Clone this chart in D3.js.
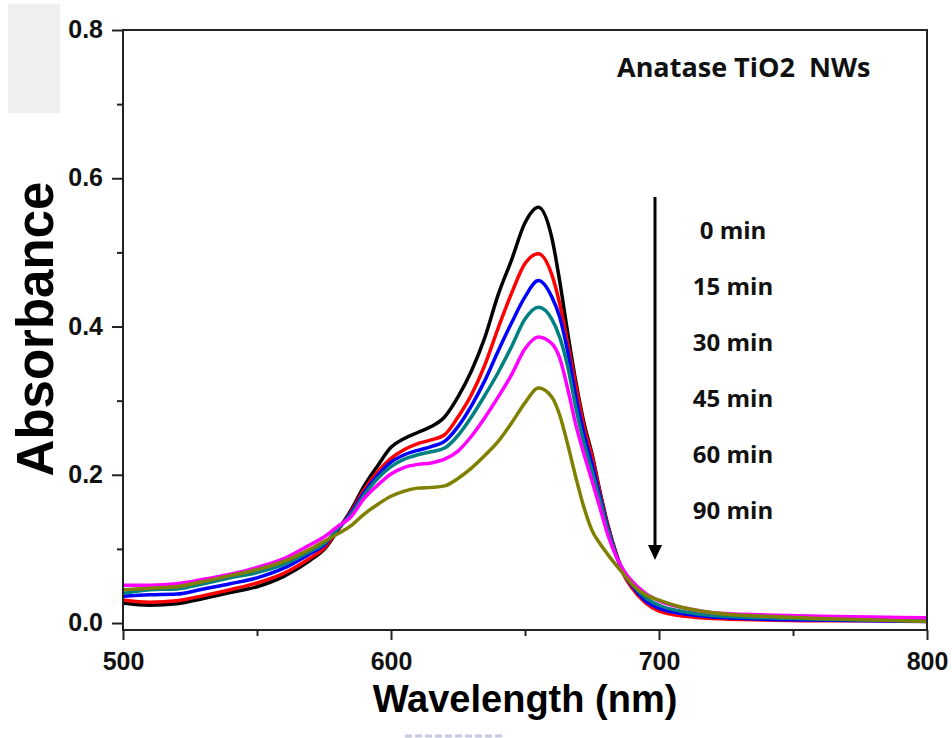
<!DOCTYPE html>
<html lang="en">
<head>
  <meta charset="UTF-8">
  <title>Anatase TiO2 NWs absorbance</title>
  <script src="https://d3js.org/d3.v7.min.js"></script>
  <style>
    body { margin: 0; background: #fff; }
    .tick text { font: bold 25px "Liberation Sans", Arial, sans-serif; fill: #111; }
    .tick line { stroke: #222; stroke-width: 2px; }
    .curve { fill: none; stroke-width: 3.5px; stroke-linejoin: round; }
    .note { font-family: "Open Sans", sans-serif; font-weight: 700; fill: #111; }
  </style>
</head>
<body>
  <svg id="chart" width="952" height="738"></svg>

  <script>
    // wavelength grid (nm) the curves were read at
    const wavelength = [500, 510, 520, 530, 540, 550, 560, 570, 575, 580, 585, 590, 595, 600, 605, 610, 615, 620,
      625, 630, 635, 640, 645, 650, 655, 660, 663, 666, 669, 672, 675, 678, 681, 684, 687, 690, 695, 700,
      710, 720, 740, 760, 780, 800];

    const abs0 = [0.027, 0.024, 0.026, 0.033, 0.041, 0.049, 0.063, 0.085, 0.099, 0.124, 0.152, 0.185, 0.212, 0.237, 0.249, 0.257, 0.265, 0.278,
      0.305, 0.340, 0.385, 0.443, 0.490, 0.540, 0.561, 0.520, 0.460, 0.390, 0.325, 0.270, 0.228, 0.177, 0.131, 0.094, 0.065, 0.048, 0.029, 0.018,
      0.010, 0.007, 0.005, 0.004, 0.004, 0.005];
    const abs15 = [0.031, 0.028, 0.030, 0.037, 0.045, 0.054, 0.067, 0.088, 0.101, 0.125, 0.150, 0.180, 0.204, 0.222, 0.234, 0.242, 0.247, 0.254,
      0.278, 0.308, 0.348, 0.398, 0.445, 0.485, 0.498, 0.470, 0.430, 0.376, 0.320, 0.265, 0.225, 0.175, 0.130, 0.093, 0.064, 0.047, 0.027, 0.016,
      0.009, 0.006, 0.004, 0.003, 0.003, 0.004];
    const abs30 = [0.036, 0.038, 0.039, 0.046, 0.053, 0.061, 0.074, 0.094, 0.105, 0.126, 0.148, 0.176, 0.199, 0.217, 0.227, 0.233, 0.238, 0.245,
      0.265, 0.293, 0.327, 0.367, 0.405, 0.440, 0.462, 0.440, 0.412, 0.365, 0.305, 0.255, 0.215, 0.170, 0.127, 0.092, 0.066, 0.050, 0.030, 0.020,
      0.012, 0.008, 0.005, 0.004, 0.003, 0.002];
    const abs45 = [0.040, 0.045, 0.046, 0.053, 0.061, 0.068, 0.079, 0.097, 0.107, 0.127, 0.146, 0.173, 0.195, 0.211, 0.221, 0.227, 0.231, 0.236,
      0.253, 0.278, 0.307, 0.338, 0.373, 0.410, 0.426, 0.410, 0.385, 0.345, 0.290, 0.243, 0.205, 0.165, 0.124, 0.091, 0.067, 0.052, 0.034, 0.024,
      0.015, 0.010, 0.007, 0.005, 0.004, 0.003];
    const abs60 = [0.051, 0.051, 0.053, 0.059, 0.066, 0.075, 0.087, 0.106, 0.116, 0.130, 0.143, 0.168, 0.186, 0.201, 0.210, 0.214, 0.216, 0.221,
      0.232, 0.252, 0.277, 0.305, 0.335, 0.370, 0.386, 0.377, 0.357, 0.315, 0.267, 0.228, 0.192, 0.155, 0.118, 0.090, 0.070, 0.056, 0.040, 0.030,
      0.020, 0.014, 0.011, 0.009, 0.008, 0.007];
    const abs90 = [0.045, 0.047, 0.049, 0.056, 0.064, 0.072, 0.083, 0.100, 0.110, 0.120, 0.131, 0.147, 0.160, 0.171, 0.178, 0.182, 0.183, 0.185,
      0.195, 0.209, 0.226, 0.245, 0.270, 0.297, 0.317, 0.305, 0.280, 0.240, 0.196, 0.156, 0.125, 0.107, 0.092, 0.078, 0.065, 0.052, 0.038, 0.031,
      0.020, 0.014, 0.009, 0.006, 0.004, 0.002];

    const seriesLabels = ["0 min", "15 min", "30 min", "45 min", "60 min", "90 min"];
    const seriesColors = ["#000000", "#ff0000", "#0000ff", "#008080", "#ff00ff", "#808000"];
    const seriesValues = [abs0, abs15, abs30, abs45, abs60, abs90];

    const xMajor = [500, 600, 700, 800];
    const xMinor = [550, 650, 750];
    const yMajor = [0.0, 0.2, 0.4, 0.6, 0.8];
    const yMinor = [0.1, 0.3, 0.5, 0.7];

    const svg = d3.select("#chart");
    const plot = { left: 123, right: 927, top: 30, bottom: 630 };

    const x = d3.scaleLinear().domain([500, 800]).range([plot.left, plot.right]);
    const y = d3.scaleLinear().domain([-0.0094, 0.8]).range([plot.bottom, plot.top]);

    // grey patch in the corner of the original scan
    svg.append("rect")
      .attr("x", 8).attr("y", 4).attr("width", 52).attr("height", 109)
      .attr("fill", "#f0f0f0");

    // curves
    const line = d3.line()
      .x((d, i) => x(wavelength[i]))
      .y(d => y(d))
      .curve(d3.curveMonotoneX);

    seriesValues.forEach((vals, k) => {
      svg.append("path")
        .datum(vals)
        .attr("class", "curve")
        .attr("stroke", seriesColors[k])
        .attr("d", line);
    });

    // frame
    svg.append("rect")
      .attr("x", plot.left).attr("y", plot.top)
      .attr("width", plot.right - plot.left).attr("height", plot.bottom - plot.top)
      .attr("fill", "none").attr("stroke", "#222").attr("stroke-width", 2);

    // axes
    const yAxis = svg.append("g").attr("transform", `translate(${plot.left},0)`)
      .call(d3.axisLeft(y).tickValues(yMajor).tickSize(11).tickFormat(d3.format(".1f")));
    yAxis.select(".domain").remove();
    yAxis.selectAll("text").attr("x", -20).attr("dy", "0.3em");

    const yAxisMinor = svg.append("g").attr("transform", `translate(${plot.left},0)`)
      .call(d3.axisLeft(y).tickValues(yMinor).tickSize(6).tickFormat(""));
    yAxisMinor.select(".domain").remove();

    const xAxis = svg.append("g").attr("transform", `translate(0,${plot.bottom})`)
      .call(d3.axisBottom(x).tickValues(xMajor).tickSize(10).tickFormat(d3.format("d")));
    xAxis.select(".domain").remove();
    xAxis.selectAll("text").attr("y", 40).attr("dy", 0);

    const xAxisMinor = svg.append("g").attr("transform", `translate(0,${plot.bottom})`)
      .call(d3.axisBottom(x).tickValues(xMinor).tickSize(6).tickFormat(""));
    xAxisMinor.select(".domain").remove();

    // axis titles
    svg.append("text")
      .attr("transform", "translate(53,329) rotate(-90)")
      .attr("text-anchor", "middle")
      .style("font", "bold 51px 'Liberation Sans', Arial, sans-serif")
      .text("Absorbance");

    svg.append("text")
      .attr("x", 525).attr("y", 712)
      .attr("text-anchor", "middle")
      .style("font", "bold 38px 'Liberation Sans', Arial, sans-serif")
      .text("Wavelength (nm)");

    // faint remnant under the x title
    svg.append("line")
      .attr("x1", 405).attr("x2", 505).attr("y1", 736).attr("y2", 736)
      .attr("stroke", "#c4c8e2").attr("stroke-width", 3).attr("stroke-dasharray", "7,3");

    // sample label
    svg.append("text")
      .attr("class", "note")
      .attr("x", 617).attr("y", 77)
      .style("font-size", "27px")
      .style("white-space", "pre")
      .text("Anatase TiO2  NWs");

    // time arrow
    svg.append("line")
      .attr("x1", 655).attr("x2", 655).attr("y1", 197).attr("y2", 548)
      .attr("stroke", "#000").attr("stroke-width", 3);
    svg.append("path")
      .attr("d", "M648,545 L662,545 L655,560 Z")
      .attr("fill", "#000");

    seriesLabels.forEach((lab, k) => {
      svg.append("text")
        .attr("class", "note")
        .attr("x", 733).attr("y", 239 + k * 56)
        .attr("text-anchor", "middle")
        .style("font-size", "24px")
        .text(lab);
    });
  </script>
</body>
</html>
